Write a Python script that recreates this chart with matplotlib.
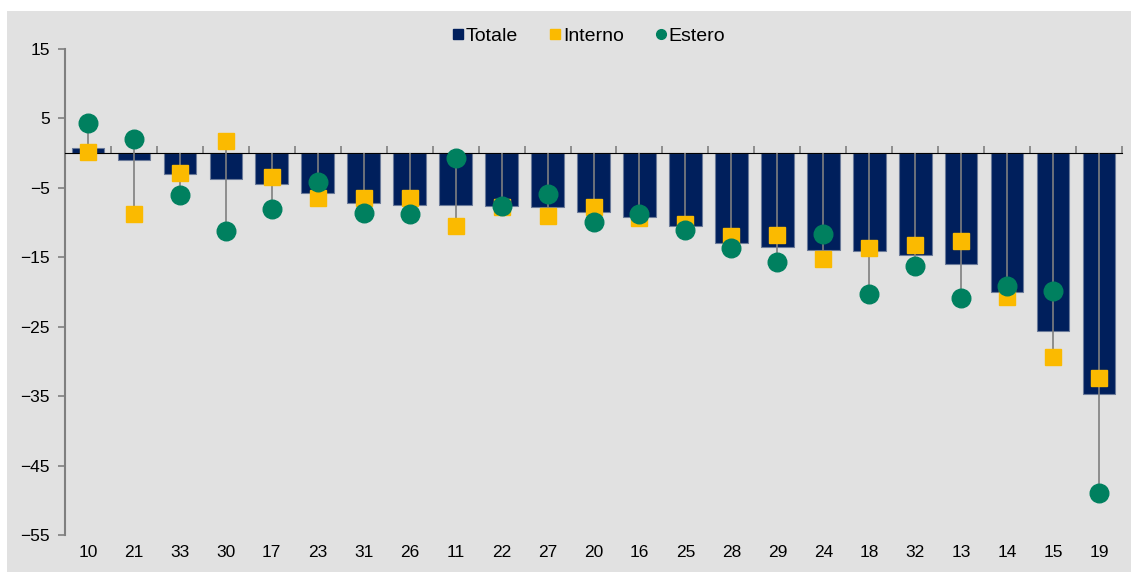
import numpy as np
import matplotlib
matplotlib.use("Agg")
import matplotlib.pyplot as plt
from matplotlib.lines import Line2D
from matplotlib.patches import Rectangle

plt.rcParams["font.family"] = ["Liberation Sans", "DejaVu Sans"]

categorie = ["10", "21", "33", "30", "17", "23", "31", "26", "11", "22", "27", "20",
             "16", "25", "28", "29", "24", "18", "32", "13", "14", "15", "19"]
totale = [0.8, -1.0, -3.0, -3.7, -4.4, -5.8, -7.2, -7.4, -7.5, -7.6, -7.7, -8.5,
          -9.2, -10.5, -12.9, -13.5, -14.0, -14.1, -14.7, -15.9, -20.0, -25.6, -34.7]
interno = [0.1, -8.7, -2.9, 1.7, -3.4, -6.5, -6.5, -6.5, -10.5, -7.8, -9.1, -7.7,
           -9.3, -10.2, -12.0, -11.8, -15.2, -13.6, -13.3, -12.7, -20.7, -29.4, -32.4]
estero = [4.4, 2.1, -6.1, -11.2, -8.0, -4.1, -8.6, -8.7, -0.7, -7.6, -5.9, -9.9,
          -8.8, -11.0, -13.6, -15.7, -11.6, -20.3, -16.3, -20.9, -19.2, -19.8, -48.9]

navy = "#001f5c"
giallo = "#fbba00"
verde = "#00805f"
grigio = "#7f7f7f"

fig = plt.figure(figsize=(11.31, 5.72), dpi=100)
fig.add_artist(Rectangle((7 / 1131, 0), 1, 561 / 572, transform=fig.transFigure,
                         facecolor="#e1e1e1", edgecolor="none", zorder=-10))
ax = fig.add_axes([65 / 1131, 37 / 572, 1057 / 1131, 486 / 572])
ax.set_facecolor("none")

x = np.arange(len(categorie))
ax.bar(x, totale, width=0.71, color=navy, edgecolor="#6a7a99", linewidth=0.8, zorder=2)

top = np.maximum(np.maximum(interno, estero), 0)
bottom = np.minimum(np.minimum(interno, estero), 0)
ax.vlines(x, bottom, top, color=grigio, linewidth=1.2, zorder=3)
ax.plot(x, interno, "s", color=giallo, markersize=12.2, linestyle="none", zorder=4)
ax.plot(x, estero, "o", color=verde, markersize=13.4, linestyle="none", zorder=5)

ax.set_xlim(-0.5, len(categorie) - 0.5)
ax.set_ylim(-55, 15)
ax.set_yticks(np.arange(-55, 16, 10))
ax.set_xticks(x)
ax.set_xticklabels(categorie)
ax.tick_params(axis="x", length=0, pad=7, labelsize=12.5)
ax.tick_params(axis="y", length=5, width=1.2, color=grigio, pad=6, labelsize=12.5)

for s in ["top", "right", "bottom"]:
    ax.spines[s].set_visible(False)
ax.spines["left"].set_color(grigio)
ax.spines["left"].set_linewidth(1.5)

# asse orizzontale sullo zero con tacche tra le categorie
sec = ax.secondary_xaxis(55 / 70)
sec.set_xticks(np.arange(-0.5, len(categorie), 1.0))
sec.set_xticklabels([])
sec.tick_params(axis="x", direction="out", length=5, width=1.2, color=grigio)
sec.spines["bottom"].set_color(grigio)
sec.spines["bottom"].set_linewidth(1.5)
sec.set_zorder(2.5)

handles = [
    Line2D([], [], marker="s", color=navy, linestyle="none", markersize=7),
    Line2D([], [], marker="s", color=giallo, linestyle="none", markersize=7),
    Line2D([], [], marker="o", color=verde, linestyle="none", markersize=7),
]
ax.legend(handles, ["Totale", "Interno", "Estero"], loc="upper center",
          bbox_to_anchor=(0.4935, 1.08), ncol=3, frameon=False, fontsize=14,
          handletextpad=-0.1, columnspacing=1.4, handlelength=1.0)

fig.savefig("out.png", dpi=100)
